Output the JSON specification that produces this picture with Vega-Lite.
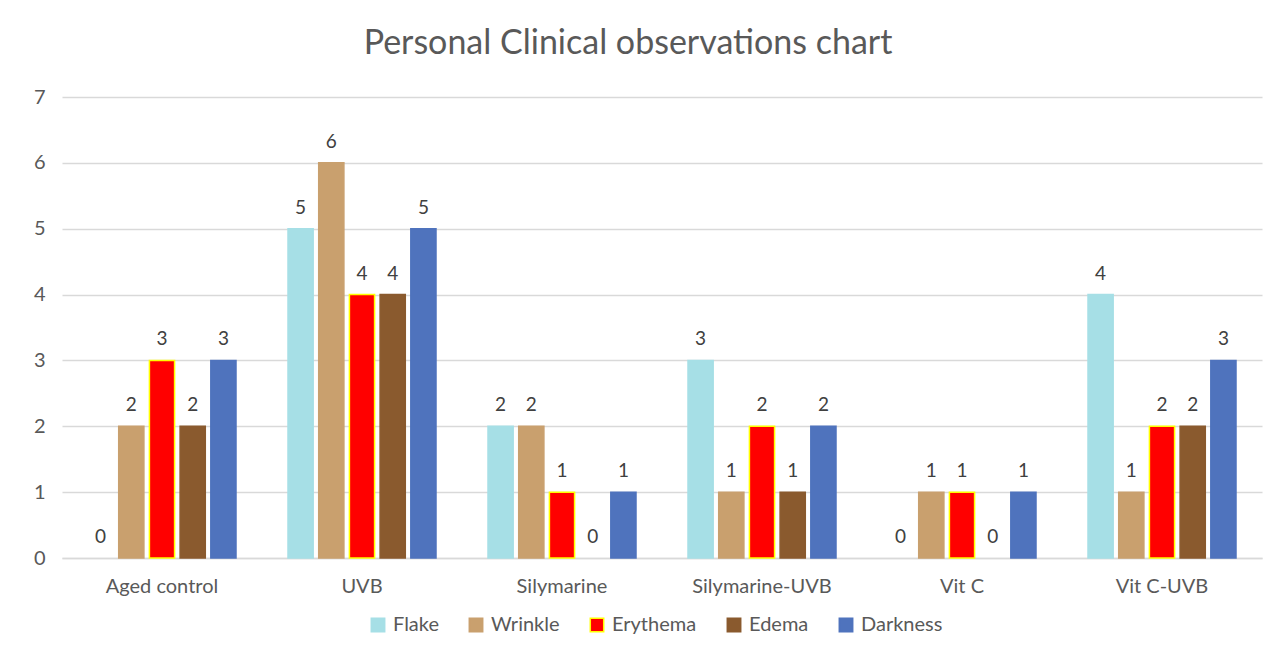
{
  "$schema": "https://vega.github.io/schema/vega-lite/v6.json",
  "autosize": "none",
  "width": 1200,
  "height": 461,
  "padding": {"left": 62, "top": 97, "right": 20, "bottom": 99},
  "background": "white",
  "title": {
    "text": "Personal Clinical observations chart",
    "font": "Lato",
    "fontSize": 34,
    "fontWeight": "normal",
    "color": "#595959",
    "anchor": "middle",
    "dx": -34,
    "offset": 26
  },
  "config": {
    "view": {"stroke": null},
    "font": "Lato"
  },
  "data": {
    "values": [
      {"group": "Aged control", "series": "Flake", "value": 0},
      {"group": "Aged control", "series": "Wrinkle", "value": 2},
      {"group": "Aged control", "series": "Erythema", "value": 3},
      {"group": "Aged control", "series": "Edema", "value": 2},
      {"group": "Aged control", "series": "Darkness", "value": 3},
      {"group": "UVB", "series": "Flake", "value": 5},
      {"group": "UVB", "series": "Wrinkle", "value": 6},
      {"group": "UVB", "series": "Erythema", "value": 4},
      {"group": "UVB", "series": "Edema", "value": 4},
      {"group": "UVB", "series": "Darkness", "value": 5},
      {"group": "Silymarine", "series": "Flake", "value": 2},
      {"group": "Silymarine", "series": "Wrinkle", "value": 2},
      {"group": "Silymarine", "series": "Erythema", "value": 1},
      {"group": "Silymarine", "series": "Edema", "value": 0},
      {"group": "Silymarine", "series": "Darkness", "value": 1},
      {"group": "Silymarine-UVB", "series": "Flake", "value": 3},
      {"group": "Silymarine-UVB", "series": "Wrinkle", "value": 1},
      {"group": "Silymarine-UVB", "series": "Erythema", "value": 2},
      {"group": "Silymarine-UVB", "series": "Edema", "value": 1},
      {"group": "Silymarine-UVB", "series": "Darkness", "value": 2},
      {"group": "Vit C", "series": "Flake", "value": 0},
      {"group": "Vit C", "series": "Wrinkle", "value": 1},
      {"group": "Vit C", "series": "Erythema", "value": 1},
      {"group": "Vit C", "series": "Edema", "value": 0},
      {"group": "Vit C", "series": "Darkness", "value": 1},
      {"group": "Vit C-UVB", "series": "Flake", "value": 4},
      {"group": "Vit C-UVB", "series": "Wrinkle", "value": 1},
      {"group": "Vit C-UVB", "series": "Erythema", "value": 2},
      {"group": "Vit C-UVB", "series": "Edema", "value": 2},
      {"group": "Vit C-UVB", "series": "Darkness", "value": 3}
    ]
  },
  "encoding": {
    "x": {
      "field": "group",
      "type": "nominal",
      "sort": null,
      "scale": {"paddingInner": 0.26, "paddingOuter": 0.13},
      "axis": {
        "title": null,
        "labelAngle": 0,
        "labelFontSize": 20,
        "labelColor": "#595959",
        "labelPadding": 18,
        "ticks": false,
        "domainColor": "#d9d9d9",
        "domainWidth": 1.5
      }
    },
    "xOffset": {
      "field": "series",
      "type": "nominal",
      "sort": ["Flake", "Wrinkle", "Erythema", "Edema", "Darkness"],
      "scale": {"paddingInner": 0.18, "paddingOuter": 0}
    },
    "y": {
      "field": "value",
      "type": "quantitative",
      "scale": {"domain": [0, 7]},
      "axis": {
        "title": null,
        "values": [0, 1, 2, 3, 4, 5, 6, 7],
        "labelFontSize": 20,
        "labelColor": "#595959",
        "labelPadding": 17,
        "ticks": false,
        "domain": false,
        "gridColor": "#d9d9d9",
        "gridWidth": 1.5
      }
    }
  },
  "layer": [
    {
      "mark": {"type": "bar"},
      "encoding": {
        "strokeWidth": {
          "condition": {"test": "datum.value === 0", "value": 0},
          "value": 1.5
        },
        "fill": {
          "field": "series",
          "type": "nominal",
          "sort": ["Flake", "Wrinkle", "Erythema", "Edema", "Darkness"],
          "scale": {
            "domain": ["Flake", "Wrinkle", "Erythema", "Edema", "Darkness"],
            "range": ["#a6dfe6", "#c9a06e", "#ff0000", "#8a5a2e", "#4f73bd"]
          },
          "legend": {
            "title": null,
            "orient": "none",
            "direction": "horizontal",
            "legendX": 306,
            "legendY": 518,
            "labelFontSize": 20,
            "labelColor": "#595959",
            "symbolType": "square",
            "symbolSize": 180,
            "columnPadding": 27,
            "labelOffset": 5
          }
        },
        "stroke": {
          "field": "series",
          "type": "nominal",
          "sort": ["Flake", "Wrinkle", "Erythema", "Edema", "Darkness"],
          "scale": {
            "domain": ["Flake", "Wrinkle", "Erythema", "Edema", "Darkness"],
            "range": ["#a6dfe6", "#c9a06e", "#ffff00", "#8a5a2e", "#4f73bd"]
          },
          "legend": {
            "title": null,
            "orient": "none",
            "direction": "horizontal",
            "legendX": 306,
            "legendY": 518,
            "labelFontSize": 20,
            "labelColor": "#595959",
            "symbolType": "square",
            "symbolSize": 180,
            "columnPadding": 27,
            "labelOffset": 5
          }
        }
      }
    },
    {
      "mark": {"type": "text", "baseline": "bottom", "dy": -11, "fontSize": 19, "color": "#404040"},
      "encoding": {
        "text": {"field": "value", "type": "quantitative"}
      }
    }
  ]
}
